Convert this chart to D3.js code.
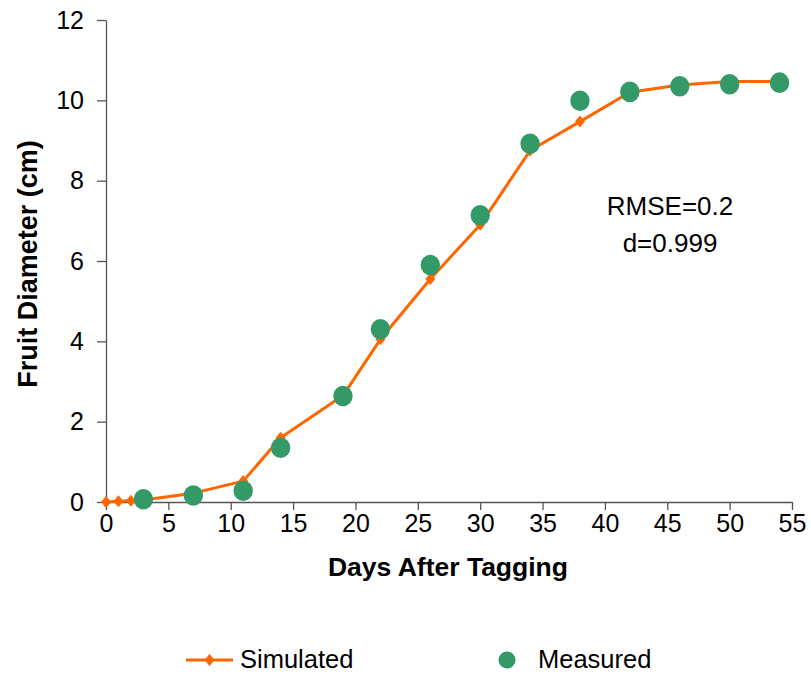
<!DOCTYPE html>
<html>
<head>
<meta charset="utf-8">
<script src="https://cdn.jsdelivr.net/npm/d3@7"></script>
<style>
  html, body { margin: 0; padding: 0; background: #fff; }
  text { font-family: Arial, "Liberation Sans", sans-serif; }
</style>
</head>
<body>
<svg id="chart" width="811" height="677"></svg>
<script>
const simDays = [0, 1, 2, 3, 7, 11, 14, 19, 22, 26, 30, 34, 38, 42, 46, 50, 54];
const simValues = [0, 0.02, 0.03, 0.05, 0.22, 0.52, 1.6, 2.65, 4.05, 5.55, 6.9, 8.75, 9.47, 10.2, 10.38, 10.47, 10.47];
const measDays = [3, 7, 11, 14, 19, 22, 26, 30, 34, 38, 42, 46, 50, 54];
const measValues = [0.07, 0.16, 0.28, 1.35, 2.64, 4.3, 5.9, 7.14, 8.92, 9.99, 10.21, 10.35, 10.4, 10.44];
const xTicks = [0, 5, 10, 15, 20, 25, 30, 35, 40, 45, 50, 55];
const yTicks = [0, 2, 4, 6, 8, 10, 12];
const annotationLines = ["RMSE=0.2", "d=0.999"];
const seriesNames = ["Simulated", "Measured"];

const simColor = "#FF6600";
const measColor = "#339966";
const axisColor = "#555";

const svg = d3.select("#chart");
const x = d3.scaleLinear().domain([0, 55]).range([106, 792]);
const y = d3.scaleLinear().domain([0, 12]).range([502, 20]);

// Axes
const xAxis = svg.append("g")
  .attr("transform", `translate(0,${y(0)})`)
  .call(d3.axisBottom(x).tickValues(xTicks).tickSize(8).tickPadding(4).tickSizeOuter(0));
const yAxis = svg.append("g")
  .attr("transform", `translate(${x(0)},0)`)
  .call(d3.axisLeft(y).tickValues(yTicks).tickSize(9).tickPadding(13).tickSizeOuter(0));

[xAxis, yAxis].forEach(g => {
  g.select(".domain").attr("stroke", axisColor).attr("stroke-width", 1.3);
  g.selectAll(".tick line").attr("stroke", axisColor).attr("stroke-width", 1.3);
  g.selectAll(".tick text")
    .attr("fill", "#000")
    .style("font-family", "Arial, 'Liberation Sans', sans-serif")
    .style("font-size", "25px");
});

// Axis titles
svg.append("text")
  .attr("x", 448).attr("y", 576)
  .attr("text-anchor", "middle")
  .style("font-size", "26.5px").style("font-weight", "bold")
  .text("Days After Tagging");
svg.append("text")
  .attr("transform", "translate(37,264) rotate(-90)")
  .attr("text-anchor", "middle")
  .style("font-size", "27px").style("font-weight", "bold")
  .text("Fruit Diameter (cm)");

// Simulated line
const simData = simDays.map((d, i) => ({ x: d, y: simValues[i] }));
const measData = measDays.map((d, i) => ({ x: d, y: measValues[i] }));

const line = d3.line().x(d => x(d.x)).y(d => y(d.y));
svg.append("path")
  .datum(simData)
  .attr("d", line)
  .attr("fill", "none")
  .attr("stroke", simColor)
  .attr("stroke-width", 3)
  .attr("stroke-linejoin", "round");

const diamond = (cx, cy, w, h) => `M${cx},${cy - h}L${cx + w},${cy}L${cx},${cy + h}L${cx - w},${cy}Z`;
svg.append("g").selectAll("path")
  .data(simData)
  .join("path")
  .attr("d", d => diamond(x(d.x), y(d.y), 5, 6))
  .attr("fill", simColor);

// Measured points
svg.append("g").selectAll("ellipse")
  .data(measData)
  .join("ellipse")
  .attr("cx", d => x(d.x))
  .attr("cy", d => y(d.y))
  .attr("rx", 9.7)
  .attr("ry", 10.3)
  .attr("fill", measColor);

// Annotation
svg.append("text")
  .attr("text-anchor", "middle")
  .style("font-size", "26px")
  .selectAll("tspan")
  .data(annotationLines)
  .join("tspan")
  .attr("x", 670)
  .attr("y", (d, i) => 215 + i * 37)
  .text(d => d);

// Legend
const lg = svg.append("g");
lg.append("line")
  .attr("x1", 186).attr("x2", 233).attr("y1", 660).attr("y2", 660)
  .attr("stroke", simColor).attr("stroke-width", 3);
lg.append("path").attr("d", diamond(209.5, 660, 5, 6)).attr("fill", simColor);
lg.append("text").attr("x", 240).attr("y", 668).style("font-size", "25.5px").text(seriesNames[0]);
lg.append("circle").attr("cx", 507).attr("cy", 660).attr("r", 8.5).attr("fill", measColor);
lg.append("text").attr("x", 538).attr("y", 668).style("font-size", "25.5px").text(seriesNames[1]);
</script>
</body>
</html>
